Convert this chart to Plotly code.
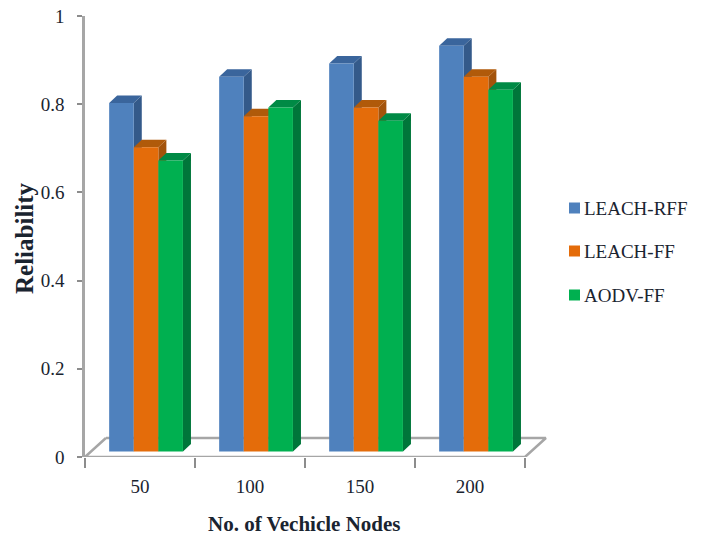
import plotly.graph_objects as go

# Chart data
node_counts = ["50", "100", "150", "200"]
leach_rff = [0.79, 0.85, 0.88, 0.92]
leach_ff = [0.69, 0.76, 0.78, 0.85]
aodv_ff = [0.66, 0.78, 0.75, 0.82]
y_ticks = [0, 0.2, 0.4, 0.6, 0.8, 1]
y_tick_labels = ["0", "0.2", "0.4", "0.6", "0.8", "1"]

series = [
    ("LEACH-RFF", leach_rff, "#4f81bd", "#345a8a", "#3a659c"),
    ("LEACH-FF", leach_ff, "#e46c0a", "#a3530b", "#b05a0a"),
    ("AODV-FF", aodv_ff, "#00b050", "#00763a", "#008a45"),
]

# Pseudo-3D geometry, in axis units
BAR_W = 0.2236
DEPTH_X = 0.073
DEPTH_Y = 0.017
BASE = 0.0125
GROUP_SHIFT = 0.055
FLOOR_X = 0.19
FLOOR_Y = 0.043
X_LEFT, X_RIGHT = -0.5, 3.5

# Plot area, in page pixels
WIDTH, HEIGHT = 702, 536
PLOT_L, PLOT_R, PLOT_T, PLOT_B = 85, 547, 16, 457


def paper_x(px):
    return (px - PLOT_L) / (PLOT_R - PLOT_L)


def paper_y(py):
    return (PLOT_B - py) / (PLOT_B - PLOT_T)


FONT = "Liberation Serif"
INK = "#1a2430"
GREY = "#a6a6a6"

fig = go.Figure()

# Floor outline of the 3D plot area
fig.add_trace(go.Scatter(
    x=[X_LEFT + FLOOR_X, X_LEFT, X_RIGHT, X_RIGHT + FLOOR_X, X_LEFT + FLOOR_X],
    y=[FLOOR_Y, 0, 0, FLOOR_Y, FLOOR_Y],
    mode="lines", line=dict(color=GREY, width=2.5),
    cliponaxis=False, showlegend=False, hoverinfo="skip",
))

# Side and top faces, on the base axes so the front faces cover them
for s, (name, values, front, side, top) in enumerate(series):
    for g, v in enumerate(values):
        x0 = g + GROUP_SHIFT + (s - 1.5) * BAR_W
        x1 = x0 + BAR_W
        y_top = BASE + v
        fig.add_trace(go.Scatter(
            x=[x1, x1 + DEPTH_X, x1 + DEPTH_X, x1, x1],
            y=[BASE, BASE + DEPTH_Y, y_top + DEPTH_Y, y_top, BASE],
            mode="lines", fill="toself", fillcolor=side, line=dict(width=0),
            showlegend=False, hoverinfo="skip",
        ))
        fig.add_trace(go.Scatter(
            x=[x0, x0 + DEPTH_X, x1 + DEPTH_X, x1, x0],
            y=[y_top, y_top + DEPTH_Y, y_top + DEPTH_Y, y_top, y_top],
            mode="lines", fill="toself", fillcolor=top, line=dict(width=0),
            showlegend=False, hoverinfo="skip",
        ))

# Front faces, on an overlaying pair of axes
for s, (name, values, front, side, top) in enumerate(series):
    fig.add_trace(go.Bar(
        x=[g + GROUP_SHIFT + (s - 1) * BAR_W for g in range(len(values))],
        y=values, base=BASE, width=BAR_W, name=name,
        marker=dict(color=front, line=dict(width=0)),
        xaxis="x2", yaxis="y2", showlegend=False,
    ))

# Key on the right: swatch and label for each series
legend_rows = [208, 251, 295]
shapes = []
annotations = []
for (name, values, front, side, top), row in zip(series, legend_rows):
    shapes.append(dict(
        type="rect", xref="paper", yref="paper",
        x0=paper_x(569), x1=paper_x(580), y0=paper_y(row + 5.5), y1=paper_y(row - 5.5),
        fillcolor=front, line=dict(width=0),
    ))
    annotations.append(dict(
        text=name, xref="paper", yref="paper", x=paper_x(582), y=paper_y(row),
        xanchor="left", yanchor="middle", showarrow=False, font=dict(size=19),
    ))

# Axis titles
annotations.append(dict(
    text="<b>No. of Vechicle Nodes</b>", xref="paper", yref="paper",
    x=paper_x(304), y=paper_y(524), xanchor="center", yanchor="middle",
    showarrow=False, font=dict(size=21),
))
annotations.append(dict(
    text="<b>Reliability</b>", xref="paper", yref="paper",
    x=paper_x(24), y=paper_y(238), xanchor="center", yanchor="middle",
    showarrow=False, textangle=-90, font=dict(size=25),
))

x_range = [X_LEFT, X_RIGHT + 0.2]
fig.update_layout(
    width=WIDTH, height=HEIGHT,
    margin=dict(l=PLOT_L, r=WIDTH - PLOT_R, t=PLOT_T, b=HEIGHT - PLOT_B),
    autosize=False,
    paper_bgcolor="white", plot_bgcolor="white",
    barmode="overlay",
    showlegend=False,
    font=dict(family=FONT, color=INK, size=19),
    shapes=shapes,
    annotations=annotations,
    xaxis=dict(
        range=x_range, showgrid=False, zeroline=False, showline=False, automargin=False,
        tickmode="array", tickvals=list(range(len(node_counts))),
        ticktext=node_counts, ticks="", ticklabelstandoff=16,
        tickfont=dict(size=19),
        minor=dict(
            tickmode="array", tickvals=[X_LEFT + i for i in range(5)],
            ticks="outside", ticklen=10, tickwidth=1.5, tickcolor="#8c8c8c",
        ),
    ),
    yaxis=dict(
        range=[0, 1], showgrid=False, zeroline=False, showline=True, automargin=False,
        linecolor=GREY, linewidth=2.5,
        tickmode="array", tickvals=y_ticks, ticktext=y_tick_labels,
        ticks="outside", ticklen=5, tickwidth=1.5, tickcolor="#8c8c8c",
        ticklabelstandoff=9, tickfont=dict(size=19),
    ),
    xaxis2=dict(range=x_range, overlaying="x", visible=False),
    yaxis2=dict(range=[0, 1], overlaying="y", visible=False),
)

fig.write_html("out.html")
